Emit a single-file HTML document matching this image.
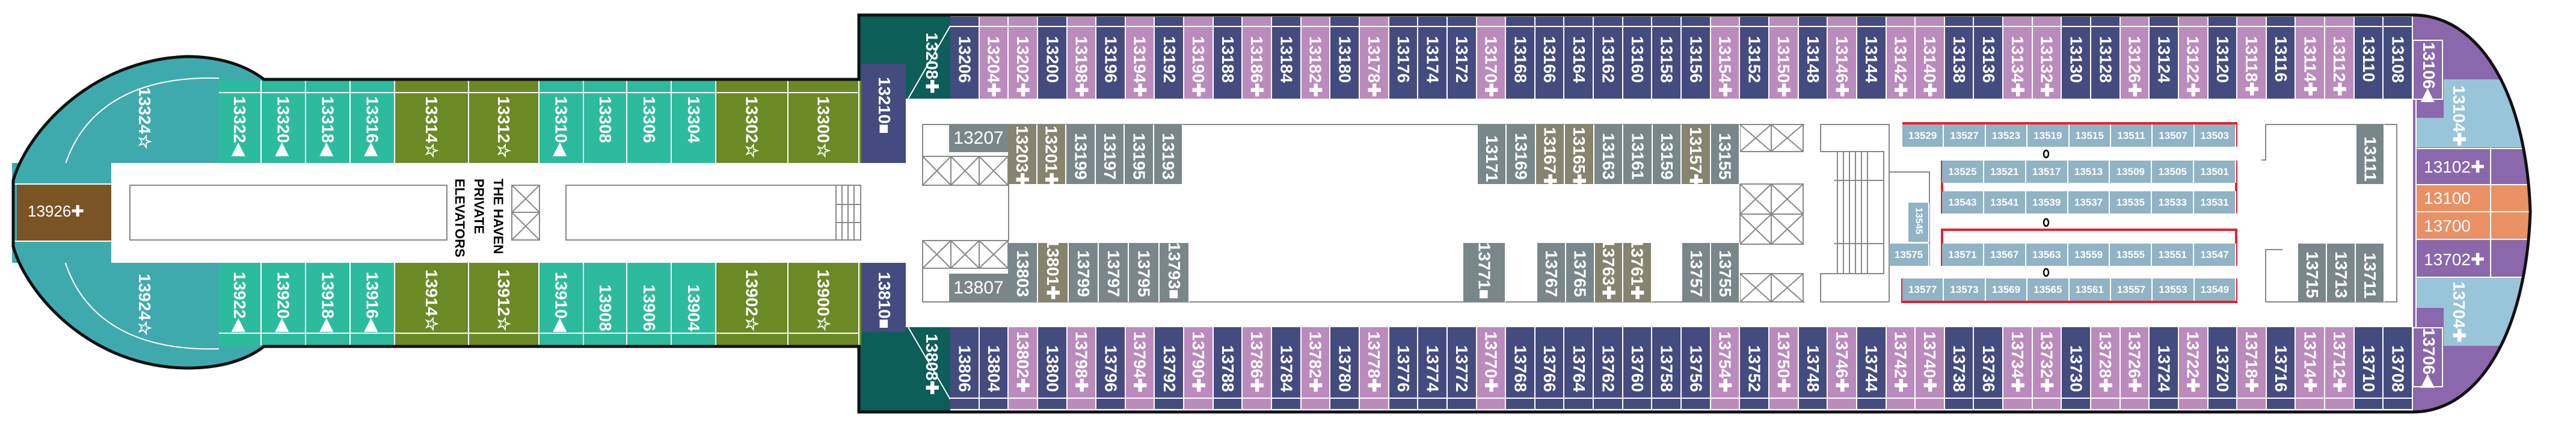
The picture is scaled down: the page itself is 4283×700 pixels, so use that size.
<!DOCTYPE html>
<html><head><meta charset="utf-8">
<style>
*{margin:0;padding:0}
body{width:4283px;height:700px;background:#fff;position:relative;overflow:hidden;font-family:"Liberation Sans",sans-serif}
svg.bg{position:absolute;left:0;top:0}
.row{position:absolute;display:flex}
.row>div{position:relative;box-sizing:border-box;border-right:2px solid #fff;color:#fff;font:bold 28px "Liberation Sans",sans-serif;writing-mode:vertical-rl;text-orientation:sideways;display:flex;align-items:center;flex:1;white-space:nowrap}
.t>div{justify-content:flex-start}
.b>div{justify-content:flex-end}
.t>div::before{content:"";position:absolute;left:0;right:0;top:15px;height:2px;background:#fff}
.b>div::before{content:"";position:absolute;left:0;right:0;bottom:17px;height:2px;background:#fff}
.lt>div::before{top:19px}.lb>div::before{bottom:19px}
.n{background:#444b7f}.p{background:#bb8bbd}.tl{background:#2dbb9d}.ol{background:#6b8a25}
.g{background:#7a878a}.og{background:#86846e}.lb2{background:#90b3c5}
.row.i>div::before{display:none}
.row.i>div{border-right:2px solid #fff}
.bl{position:absolute;display:flex}
.bl>div{flex:1;box-sizing:border-box;border-right:2px solid #fff;background:#90b3c5;color:#fff;font:bold 17px "Liberation Sans",sans-serif;display:flex;align-items:center;justify-content:center}
.v{position:absolute;color:#fff;font:bold 28px "Liberation Sans",sans-serif;writing-mode:vertical-rl;text-orientation:sideways;white-space:nowrap}
.h{position:absolute;color:#fff;font:28px "Liberation Sans",sans-serif;white-space:nowrap}
.box{position:absolute;box-sizing:border-box}
</style></head><body>
<svg class="bg" width="4283" height="700">
<defs><clipPath id="bow"><path d="M4012,25 C4120,25 4200,150 4207,352 C4200,555 4120,685 4012,685 Z"/></clipPath></defs>
<path d="M439,132 C400,102 350,94 310,94 C150,100 45,220 22,300 L22,410 C45,490 150,610 310,612 C350,612 400,606 439,576 Z" fill="#3faaae"/>
<path d="M364,130 C200,125 100,200 95,355 C100,510 200,585 364,580" stroke="#fff" stroke-width="2" fill="none"/>
<rect x="364" y="134" width="75" height="30" fill="#2dbb9d"/>
<rect x="364" y="546" width="75" height="30" fill="#2dbb9d"/>
<rect x="185" y="271" width="1250" height="166" fill="#fff"/>
<rect x="20" y="271" width="165" height="166" fill="#3faaae"/>
<rect x="28" y="307" width="157" height="93" fill="#7b5426"/>
<line x1="20" y1="306" x2="185" y2="306" stroke="#fff" stroke-width="2"/>
<line x1="20" y1="401" x2="185" y2="401" stroke="#fff" stroke-width="2"/>
<rect x="1428" y="25" width="152" height="139" fill="#0d5d58"/>
<rect x="1428" y="544" width="152" height="141" fill="#0d5d58"/>
<rect x="1400" y="134" width="32" height="137" fill="#6b8a25"/>
<rect x="1400" y="437" width="32" height="137" fill="#6b8a25"/>
<line x1="1580" y1="43" x2="1510" y2="164" stroke="#fff" stroke-width="2"/>
<line x1="1580" y1="664" x2="1510" y2="544" stroke="#fff" stroke-width="2"/>
<g clip-path="url(#bow)">
<rect x="4012" y="20" width="300" height="670" fill="#8a68ab"/>
<rect x="4063" y="132" width="250" height="64" fill="#98c5d9"/>
<rect x="4017" y="196" width="300" height="49" fill="#98c5d9"/>
<rect x="4017" y="308" width="300" height="89" fill="#ea9065"/>
<rect x="4017" y="462" width="300" height="50" fill="#98c5d9"/>
<rect x="4063" y="512" width="250" height="63" fill="#98c5d9"/>
<line x1="4017" y1="352" x2="4300" y2="352" stroke="#fff" stroke-width="2"/>
<line x1="4017" y1="307" x2="4300" y2="307" stroke="#fff" stroke-width="2"/>
<line x1="4017" y1="398" x2="4300" y2="398" stroke="#fff" stroke-width="2"/>
<line x1="4017" y1="247" x2="4300" y2="247" stroke="#fff" stroke-width="2"/>
<line x1="4017" y1="461" x2="4300" y2="461" stroke="#fff" stroke-width="2"/>
<line x1="4141" y1="245" x2="4141" y2="462" stroke="#fff" stroke-width="2"/>
<line x1="4017" y1="164" x2="4017" y2="545" stroke="#fff" stroke-width="2"/>
<rect x="4012" y="67" width="49" height="98" fill="none" stroke="#fff" stroke-width="2"/>
<rect x="4012" y="545" width="49" height="98" fill="none" stroke="#fff" stroke-width="2"/>
</g>
<g stroke="#888" stroke-width="2" fill="none">
<rect x="216" y="308" width="527" height="91"/>
<rect x="941" y="308" width="490" height="91"/>
<rect x="851" y="308" width="46" height="45"/><rect x="851" y="353" width="46" height="46"/>
<path d="M851,308 L897,353 M897,308 L851,353 M851,353 L897,399 M897,353 L851,399"/>
<line x1="1534" y1="207" x2="3000" y2="207"/>
<line x1="1534" y1="502" x2="3000" y2="502"/>
<line x1="1534" y1="207" x2="1534" y2="308"/><line x1="1534" y1="400" x2="1534" y2="502"/>
<line x1="1677" y1="306" x2="1677" y2="400"/>
<path d="M1390,308 V399 M1400,308 V399 M1410,308 V399 M1420,308 V399 M1390,340 H1430 M1390,370 H1430"/>
<rect x="1534" y="260" width="142" height="48"/>
<path d="M1534,260 L1581,308 M1581,260 L1534,308 M1581,260 L1628,308 M1628,260 L1581,308 M1628,260 L1676,308 M1676,260 L1628,308 M1581,260 V308 M1628,260 V308"/>
<rect x="1534" y="400" width="142" height="46"/>
<path d="M1534,400 L1581,446 M1581,400 L1534,446 M1581,400 L1628,446 M1628,400 L1581,446 M1628,400 L1676,446 M1676,400 L1628,446 M1581,400 V446 M1628,400 V446"/>
<rect x="2893" y="207" width="105" height="45"/><rect x="2893" y="306" width="105" height="100"/><rect x="2893" y="455" width="105" height="47"/>
<path d="M2893,207 L2945,252 M2945,207 L2893,252 M2945,207 L2998,252 M2998,207 L2945,252 M2945,207 V252
M2893,306 L2945,356 M2945,306 L2893,356 M2945,306 L2998,356 M2998,306 L2945,356 M2893,356 L2945,406 M2945,356 L2893,406 M2945,356 L2998,406 M2998,356 L2945,406 M2945,306 V406 M2893,356 H2998
M2893,455 L2945,502 M2945,455 L2893,502 M2945,455 L2998,502 M2998,455 L2945,502 M2945,455 V502"/>
<path d="M3141,502 H3027 V455 H3132 V252 H3027 V207 H3141 V502"/>
<path d="M3055,252 V455 M3065,252 V455 M3075,252 V455 M3085,252 V455 M3095,252 V455 M3105,252 V455 M3050,300 H3132 M3050,405 H3132"/>
<path d="M3141,286 H3208 V442"/>
<path d="M3718,205 V244 M3229,267 V355 M3718,267 V355"/>
<path d="M3767,207 H3985 V502 H3767 M3767,207 V266 H3760 M3767,502 V415 H3795"/>
</g>
<g stroke="#e8202e" stroke-width="4" fill="none">
<path d="M3163,205 H3718 V244"/>
<path d="M3229,267 V355 M3718,267 V355"/>
<path d="M3229,442 V382 H3718 V442"/>
<path d="M3163,463 V502 H3718 V463"/>
</g>
<g fill="none" stroke="#000" stroke-width="2.5">
<ellipse cx="3402" cy="256" rx="4" ry="6"/><ellipse cx="3402" cy="370" rx="4" ry="6"/><ellipse cx="3402" cy="453" rx="4" ry="6"/>
</g>
</svg>

<div class="row t lt" style="left:364px;top:134px;height:137px;width:1065px">
<div class="tl" style="flex:0 0 71px;padding-top:26px">13322◀</div><div class="tl" style="flex:0 0 74px;padding-top:26px">13320◀</div><div class="tl" style="flex:0 0 74px;padding-top:26px">13318◀</div><div class="tl" style="flex:0 0 74px;padding-top:26px">13316◀</div><div class="ol" style="flex:0 0 123px;padding-top:26px">13314☆</div><div class="ol" style="flex:0 0 117px;padding-top:26px">13312☆</div><div class="tl" style="flex:0 0 74px;padding-top:26px">13310◀</div><div class="tl" style="flex:0 0 72px;padding-top:26px">13308</div><div class="tl" style="flex:0 0 74px;padding-top:26px">13306</div><div class="tl" style="flex:0 0 74px;padding-top:26px">13304</div><div class="ol" style="flex:0 0 120px;padding-top:26px">13302☆</div><div class="ol" style="flex:0 0 118px;padding-top:26px">13300☆</div>
</div>
<div class="row b lb" style="left:364px;top:437px;height:137px;width:1065px">
<div class="tl" style="flex:0 0 71px;padding-bottom:23px">13922◀</div><div class="tl" style="flex:0 0 74px;padding-bottom:23px">13920◀</div><div class="tl" style="flex:0 0 74px;padding-bottom:23px">13918◀</div><div class="tl" style="flex:0 0 74px;padding-bottom:23px">13916◀</div><div class="ol" style="flex:0 0 123px;padding-bottom:23px">13914☆</div><div class="ol" style="flex:0 0 117px;padding-bottom:23px">13912☆</div><div class="tl" style="flex:0 0 74px;padding-bottom:23px">13910◀</div><div class="tl" style="flex:0 0 72px;padding-bottom:23px">13908</div><div class="tl" style="flex:0 0 74px;padding-bottom:23px">13906</div><div class="tl" style="flex:0 0 74px;padding-bottom:23px">13904</div><div class="ol" style="flex:0 0 120px;padding-bottom:23px">13902☆</div><div class="ol" style="flex:0 0 118px;padding-bottom:23px">13900☆</div>
</div>
<div class="v" style="left:224px;top:145px">13324☆</div>
<div class="v" style="left:224px;top:455px">13924☆</div>
<div class="h" style="left:46px;top:336px;font:26px 'Liberation Sans Narrow','Liberation Sans',sans-serif">13926✚</div>
<div style="position:absolute;left:748px;top:297px;writing-mode:vertical-rl;text-orientation:sideways;font:bold 22px 'Liberation Sans Narrow','Liberation Sans',sans-serif;line-height:32px;color:#000;white-space:nowrap">THE HAVEN<br>PRIVATE<br>ELEVATORS</div>

<div class="box" style="left:1432px;top:106px;width:74px;height:165px;background:#444b7f"></div>
<div class="box" style="left:1432px;top:437px;width:74px;height:115px;background:#444b7f"></div>
<div class="v" style="left:1454px;top:128px">13210■</div>
<div class="v" style="left:1454px;top:452px">13810■</div>
<div class="v" style="left:1533px;top:54px">13208✚</div>
<div class="v" style="left:1533px;top:555px">13808✚</div>

<div class="row t" style="left:1580px;top:28px;height:136px;width:2432px">
<div class="n" style="padding-top:32px">13206</div><div class="p" style="padding-top:32px">13204✚</div><div class="p" style="padding-top:32px">13202✚</div><div class="n" style="padding-top:32px">13200</div><div class="p" style="padding-top:32px">13198✚</div><div class="n" style="padding-top:32px">13196</div><div class="p" style="padding-top:32px">13194✚</div><div class="n" style="padding-top:32px">13192</div><div class="p" style="padding-top:32px">13190✚</div><div class="n" style="padding-top:32px">13188</div><div class="p" style="padding-top:32px">13186✚</div><div class="n" style="padding-top:32px">13184</div><div class="p" style="padding-top:32px">13182✚</div><div class="n" style="padding-top:32px">13180</div><div class="p" style="padding-top:32px">13178✚</div><div class="n" style="padding-top:32px">13176</div><div class="n" style="padding-top:32px">13174</div><div class="n" style="padding-top:32px">13172</div><div class="p" style="padding-top:32px">13170✚</div><div class="n" style="padding-top:32px">13168</div><div class="n" style="padding-top:32px">13166</div><div class="n" style="padding-top:32px">13164</div><div class="n" style="padding-top:32px">13162</div><div class="n" style="padding-top:32px">13160</div><div class="n" style="padding-top:32px">13158</div><div class="n" style="padding-top:32px">13156</div><div class="p" style="padding-top:32px">13154✚</div><div class="n" style="padding-top:32px">13152</div><div class="p" style="padding-top:32px">13150✚</div><div class="n" style="padding-top:32px">13148</div><div class="p" style="padding-top:32px">13146✚</div><div class="n" style="padding-top:32px">13144</div><div class="p" style="padding-top:32px">13142✚</div><div class="p" style="padding-top:32px">13140✚</div><div class="n" style="padding-top:32px">13138</div><div class="n" style="padding-top:32px">13136</div><div class="p" style="padding-top:32px">13134✚</div><div class="p" style="padding-top:32px">13132✚</div><div class="n" style="padding-top:32px">13130</div><div class="n" style="padding-top:32px">13128</div><div class="p" style="padding-top:32px">13126✚</div><div class="n" style="padding-top:32px">13124</div><div class="p" style="padding-top:32px">13122✚</div><div class="n" style="padding-top:32px">13120</div><div class="p" style="padding-top:32px">13118✚</div><div class="n" style="padding-top:32px">13116</div><div class="p" style="padding-top:32px">13114✚</div><div class="p" style="padding-top:32px">13112✚</div><div class="n" style="padding-top:32px">13110</div><div class="n" style="padding-top:32px">13108</div>
</div>
<div class="row b" style="left:1580px;top:544px;height:136px;width:2432px">
<div class="n" style="padding-bottom:28px">13806</div><div class="n" style="padding-bottom:28px">13804</div><div class="p" style="padding-bottom:28px">13802✚</div><div class="n" style="padding-bottom:28px">13800</div><div class="p" style="padding-bottom:28px">13798✚</div><div class="n" style="padding-bottom:28px">13796</div><div class="p" style="padding-bottom:28px">13794✚</div><div class="n" style="padding-bottom:28px">13792</div><div class="p" style="padding-bottom:28px">13790✚</div><div class="n" style="padding-bottom:28px">13788</div><div class="p" style="padding-bottom:28px">13786✚</div><div class="n" style="padding-bottom:28px">13784</div><div class="p" style="padding-bottom:28px">13782✚</div><div class="n" style="padding-bottom:28px">13780</div><div class="p" style="padding-bottom:28px">13778✚</div><div class="n" style="padding-bottom:28px">13776</div><div class="n" style="padding-bottom:28px">13774</div><div class="n" style="padding-bottom:28px">13772</div><div class="p" style="padding-bottom:28px">13770✚</div><div class="n" style="padding-bottom:28px">13768</div><div class="n" style="padding-bottom:28px">13766</div><div class="n" style="padding-bottom:28px">13764</div><div class="n" style="padding-bottom:28px">13762</div><div class="n" style="padding-bottom:28px">13760</div><div class="n" style="padding-bottom:28px">13758</div><div class="n" style="padding-bottom:28px">13756</div><div class="p" style="padding-bottom:28px">13754✚</div><div class="n" style="padding-bottom:28px">13752</div><div class="p" style="padding-bottom:28px">13750✚</div><div class="n" style="padding-bottom:28px">13748</div><div class="p" style="padding-bottom:28px">13746✚</div><div class="n" style="padding-bottom:28px">13744</div><div class="p" style="padding-bottom:28px">13742✚</div><div class="p" style="padding-bottom:28px">13740✚</div><div class="n" style="padding-bottom:28px">13738</div><div class="n" style="padding-bottom:28px">13736</div><div class="p" style="padding-bottom:28px">13734✚</div><div class="p" style="padding-bottom:28px">13732✚</div><div class="n" style="padding-bottom:28px">13730</div><div class="p" style="padding-bottom:28px">13728✚</div><div class="p" style="padding-bottom:28px">13726✚</div><div class="n" style="padding-bottom:28px">13724</div><div class="p" style="padding-bottom:28px">13722✚</div><div class="n" style="padding-bottom:28px">13720</div><div class="p" style="padding-bottom:28px">13718✚</div><div class="n" style="padding-bottom:28px">13716</div><div class="p" style="padding-bottom:28px">13714✚</div><div class="p" style="padding-bottom:28px">13712✚</div><div class="n" style="padding-bottom:28px">13710</div><div class="n" style="padding-bottom:28px">13708</div>
</div>

<div class="box" style="left:1578px;top:207px;width:98px;height:46px;background:#7a878a;color:#fff;font:30px 'Liberation Sans Narrow','Liberation Sans',sans-serif;text-align:center;line-height:46px">13207</div>
<div class="box" style="left:1578px;top:455px;width:98px;height:47px;background:#7a878a;color:#fff;font:30px 'Liberation Sans Narrow','Liberation Sans',sans-serif;text-align:center;line-height:47px">13807</div>
<div class="row t i" style="left:1676px;top:207px;height:99px;width:291px">
<div class="og" style="padding-top:2px">13203✚</div><div class="og" style="padding-top:2px">13201✚</div><div class="g" style="padding-top:14px">13199</div><div class="g" style="padding-top:14px">13197</div><div class="g" style="padding-top:14px">13195</div><div class="g" style="padding-top:14px">13193</div>
</div>
<div class="row t i" style="left:2457px;top:207px;height:99px;width:436px">
<div class="g" style="padding-top:18px">13171</div><div class="g" style="padding-top:14px">13169</div><div class="og" style="padding-top:4px">13167✚</div><div class="og" style="padding-top:4px">13165✚</div><div class="g" style="padding-top:14px">13163</div><div class="g" style="padding-top:14px">13161</div><div class="g" style="padding-top:14px">13159</div><div class="og" style="padding-top:4px">13157✚</div><div class="g" style="padding-top:14px">13155</div>
</div>
<div class="row b i" style="left:1676px;top:404px;height:98px;width:302px">
<div class="g" style="padding-bottom:8px">13803</div><div class="og" style="padding-bottom:4px">13801✚</div><div class="g" style="padding-bottom:8px">13799</div><div class="g" style="padding-bottom:8px">13797</div><div class="g" style="padding-bottom:8px">13795</div><div class="g" style="padding-bottom:4px">13793■</div>
</div>
<div class="row b i" style="left:2433px;top:404px;height:98px;width:71px"><div class="g" style="padding-bottom:4px">13771■</div></div>
<div class="row b i" style="left:2556px;top:404px;height:98px;width:191px">
<div class="g" style="padding-bottom:8px">13767</div><div class="g" style="padding-bottom:8px">13765</div><div class="og" style="padding-bottom:4px">13763✚</div><div class="og" style="padding-bottom:4px">13761✚</div>
</div>
<div class="row b i" style="left:2797px;top:404px;height:98px;width:96px">
<div class="g" style="padding-bottom:8px">13757</div><div class="g" style="padding-bottom:8px">13755</div>
</div>
<div class="row t i" style="left:3918px;top:207px;height:99px;width:47px"><div class="g" style="padding-top:20px">13111</div></div>
<div class="row b i" style="left:3821px;top:405px;height:97px;width:144px">
<div class="g" style="padding-bottom:6px">13715</div><div class="g" style="padding-bottom:6px">13713</div><div class="g" style="padding-bottom:6px">13711</div>
</div>
<div class="row t i" style="left:3173px;top:337px;height:65px;width:35px"><div class="lb2" style="font-size:16px;padding-top:8px">13545</div></div>
<div class="bl" style="left:3141px;top:405px;width:67px;height:37px"><div>13575</div></div>

<div class="bl" style="left:3163px;top:207px;width:555px;height:37px"><div>13529</div><div>13527</div><div>13523</div><div>13519</div><div>13515</div><div>13511</div><div>13507</div><div>13503</div></div>
<div class="bl" style="left:3229px;top:267px;width:489px;height:37px"><div>13525</div><div>13521</div><div>13517</div><div>13513</div><div>13509</div><div>13505</div><div>13501</div></div>
<div class="bl" style="left:3229px;top:318px;width:489px;height:37px"><div>13543</div><div>13541</div><div>13539</div><div>13537</div><div>13535</div><div>13533</div><div>13531</div></div>
<div class="bl" style="left:3229px;top:405px;width:489px;height:37px"><div>13571</div><div>13567</div><div>13563</div><div>13559</div><div>13555</div><div>13551</div><div>13547</div></div>
<div class="bl" style="left:3163px;top:463px;width:555px;height:37px"><div>13577</div><div>13573</div><div>13569</div><div>13565</div><div>13561</div><div>13557</div><div>13553</div><div>13549</div></div>

<div class="v" style="left:4022px;top:70px">13106◀</div>
<div class="v" style="left:4072px;top:142px">13104✚</div>
<div class="h" style="left:4030px;top:261px">13102✚</div>
<div class="h" style="left:4030px;top:314px">13100</div>
<div class="h" style="left:4030px;top:360px">13700</div>
<div class="h" style="left:4030px;top:415px">13702✚</div>
<div class="v" style="left:4072px;top:468px">13704✚</div>
<div class="v" style="left:4022px;top:545px">13706◀</div>

<svg class="bg" width="4283" height="700" style="pointer-events:none">
<path d="M439,132 L1428,132 L1428,25 L4012,25 C4120,25 4200,150 4207,352 C4200,555 4120,685 4012,685 L1428,685 L1428,576 L439,576 C400,606 350,612 310,612 C150,610 45,490 22,410 L22,300 C45,220 150,100 310,94 C350,94 400,102 439,132 Z" fill="none" stroke="#111" stroke-width="5"/>
</svg>
</body></html>
